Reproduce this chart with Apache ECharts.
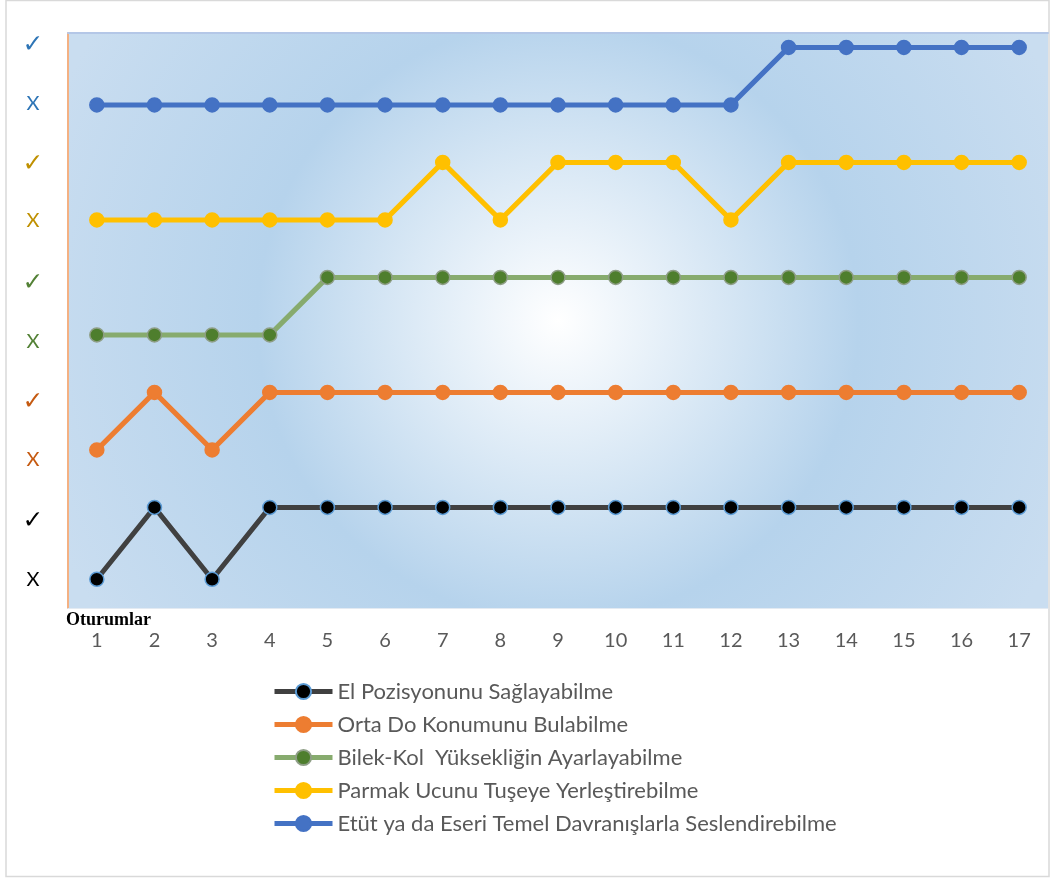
<!DOCTYPE html>
<html><head><meta charset="utf-8">
<script src="https://cdn.jsdelivr.net/npm/echarts@6/dist/echarts.min.js"></script>
<style>html,body{margin:0;padding:0;background:#fff}#c{width:1053px;height:879px}</style>
</head><body><div id="c"></div>
<script>
const sessions = ['1','2','3','4','5','6','7','8','9','10','11','12','13','14','15','16','17'];
const seriesNames = ['El Pozisyonunu Sağlayabilme','Orta Do Konumunu Bulabilme','Bilek-Kol  Yüksekliğin Ayarlayabilme','Parmak Ucunu Tuşeye Yerleştirebilme','Etüt ya da Eseri Temel Davranışlarla Seslendirebilme'];
const elPozisyon = [0.5,1.75,0.5,1.75,1.75,1.75,1.75,1.75,1.75,1.75,1.75,1.75,1.75,1.75,1.75,1.75,1.75];
const ortaDo     = [2.75,3.75,2.75,3.75,3.75,3.75,3.75,3.75,3.75,3.75,3.75,3.75,3.75,3.75,3.75,3.75,3.75];
const bilekKol   = [4.75,4.75,4.75,4.75,5.75,5.75,5.75,5.75,5.75,5.75,5.75,5.75,5.75,5.75,5.75,5.75,5.75];
const parmakUcu  = [6.75,6.75,6.75,6.75,6.75,6.75,7.75,6.75,7.75,7.75,7.75,6.75,7.75,7.75,7.75,7.75,7.75];
const etut       = [8.75,8.75,8.75,8.75,8.75,8.75,8.75,8.75,8.75,8.75,8.75,8.75,9.75,9.75,9.75,9.75,9.75];
const yTickValues = [0.49,1.5,2.59,3.57,4.64,5.65,6.73,7.72,8.78,9.78];
const yTickLabels = ['X','✓','X','✓','X','✓','X','✓','X','✓'];
const yTickColors = ['k','k','o','o','g','g','y','y','b','b'];

const font = 'Lato, "Open Sans", "DejaVu Sans", sans-serif';
const checkFont = '"DejaVu Sans"';
const lineColors = ['#404040','#ED7D31','#87AB6E','#FFC000','#4472C4'];
const markerFill = ['#000000','#ED7D31','#4E7E2D','#FFC000','#4472C4'];
const markerBorder = ['#5B9BD5','#ED7D31','#8E9E86','#FFC000','#4472C4'];
const dataSets = [elPozisyon, ortaDo, bilekKol, parmakUcu, etut];
const labelColors = {k: '#000000', o: '#C55A11', g: '#538135', y: '#BF9000', b: '#2E75B6'};

function tickIndex(v) {
  let best = 0;
  for (let i = 0; i < yTickValues.length; i++) {
    if (Math.abs(yTickValues[i] - v) < Math.abs(yTickValues[best] - v)) best = i;
  }
  return best;
}
const rich = {};
Object.keys(labelColors).forEach(function (k) {
  rich[k + 'x'] = {color: labelColors[k], fontSize: 20, fontFamily: font};
  rich[k + 'c'] = {color: labelColors[k], fontSize: 25, fontFamily: checkFont};
});

const chart = echarts.init(document.getElementById('c'));
chart.setOption({
  backgroundColor: '#fff',
  animation: false,
  title: {text: 'Oturumlar', left: 61, top: 606, textStyle: {fontFamily: '"Liberation Serif", serif', fontWeight: 'bold', fontSize: 18, color: '#000'}},
  graphic: [{type: 'rect', shape: {x: 6, y: 0.5, width: 1043, height: 876}, style: {fill: 'none', stroke: '#D9D9D9', lineWidth: 1.5}, silent: true, z: -1}],
  grid: {left: 68, right: 5, top: 33, bottom: 271, show: true, borderWidth: 0,
    backgroundColor: {type: 'radial', x: 0.5, y: 0.5, r: 0.95, colorStops: [
      {offset: 0, color: '#FFFFFF'}, {offset: 0.55, color: '#B6D3EC'}, {offset: 1, color: '#C9DDF0'}]}},
  legend: {orient: 'vertical', left: 267, top: 675, itemWidth: 58, itemHeight: 19, itemGap: 10,
    textStyle: {fontFamily: font, fontSize: 22, color: '#595959', lineHeight: 23},
    lineStyle: {width: 5},
    data: seriesNames},
  xAxis: [{type: 'category', data: sessions, boundaryGap: true,
    axisLine: {show: true, lineStyle: {color: '#E3EAF2', width: 1}}, axisTick: {show: false},
    axisLabel: {fontFamily: font, fontSize: 20, color: '#595959', margin: 23}},
    {type: 'category', data: sessions, position: 'top', axisLine: {show: true, lineStyle: {color: '#B4C7E7', width: 2}},
     axisTick: {show: false}, axisLabel: {show: false}}],
  yAxis: {type: 'value', min: 0, max: 10, splitLine: {show: false},
    axisLine: {show: true, lineStyle: {color: '#F4B183', width: 2}}, axisTick: {show: false},
    axisLabel: {customValues: yTickValues, margin: 35, align: 'center', fontFamily: font, fontSize: 20,
      formatter: function (v) {
        const i = tickIndex(v);
        const kind = yTickLabels[i] === 'X' ? 'x' : 'c';
        return '{' + yTickColors[i] + kind + '|' + yTickLabels[i] + '}';
      },
      rich: rich}},
  series: seriesNames.map(function (n, i) {
    return {name: n, type: 'line', data: dataSets[i], symbol: 'circle', symbolSize: 14,
      lineStyle: {color: lineColors[i], width: 5},
      itemStyle: {color: markerFill[i], borderColor: markerBorder[i], borderWidth: 1.5}};
  })
});
</script></body></html>
